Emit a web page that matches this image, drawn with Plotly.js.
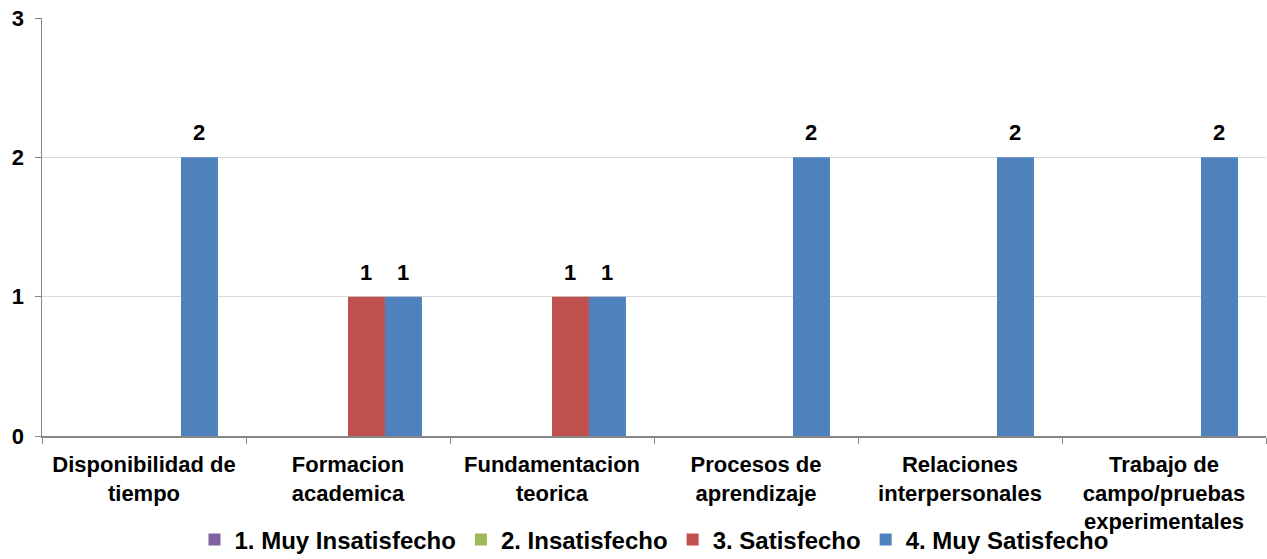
<!DOCTYPE html>
<html>
<head>
<meta charset="utf-8">
<script src="https://cdn.plot.ly/plotly-3.0.1.min.js"></script>
<style>html,body{margin:0;padding:0;background:#fff;}#chart{width:1267px;height:559px;}</style>
</head>
<body>
<div id="chart"></div>
<script>
const categories = [
  "Disponibilidad de<br>tiempo",
  "Formacion<br>academica",
  "Fundamentacion<br>teorica",
  "Procesos de<br>aprendizaje",
  "Relaciones<br>interpersonales",
  "Trabajo de<br>campo/pruebas<br>experimentales"
];
const seriesNames = ["1. Muy Insatisfecho", "2. Insatisfecho", "3. Satisfecho", "4. Muy Satisfecho"];
const muyInsatisfecho = [0, 0, 0, 0, 0, 0];
const insatisfecho    = [0, 0, 0, 0, 0, 0];
const satisfecho      = [0, 1, 1, 0, 0, 0];
const muySatisfecho   = [2, 1, 1, 2, 2, 2];
const seriesValues = [muyInsatisfecho, insatisfecho, satisfecho, muySatisfecho];
const seriesColors = ["#8064A2", "#9BBB59", "#C0504D", "#4F81BD"];

const FONT = "Liberation Sans, Arial, sans-serif";
const W = 1267, H = 559;
const margin = {l: 42, r: 1, t: 18, b: 123};
const bargap = 0.275;

const traces = seriesValues.map((vals, i) => ({
  type: "bar",
  name: seriesNames[i],
  x: categories,
  y: vals,
  marker: {color: seriesColors[i]},
  hoverinfo: "none"
}));

// data labels (non-zero values only), placed over each bar of the group
const catWidthPx = (W - margin.l - margin.r) / categories.length;
const barWidthPx = catWidthPx * (1 - bargap) / seriesValues.length;
const annotations = [];
seriesValues.forEach((vals, i) => {
  vals.forEach((v, j) => {
    if (v > 0) {
      annotations.push({
        x: categories[j], y: v, xref: "x", yref: "y",
        text: "<b>" + v + "</b>",
        showarrow: false,
        xanchor: "center", yanchor: "bottom",
        xshift: (i - (seriesValues.length - 1) / 2) * barWidthPx,
        yshift: 10,
        font: {family: FONT, size: 22, color: "#000"}
      });
    }
  });
});

const layout = {
  width: W, height: H,
  margin: margin,
  paper_bgcolor: "#fff", plot_bgcolor: "#fff",
  barmode: "group",
  bargap: bargap,
  bargroupgap: 0,
  showlegend: true,
  legend: {
    orientation: "h", x: 0.5, xanchor: "center",
    yref: "container", y: 0.034, yanchor: "middle",
    bgcolor: "rgba(0,0,0,0)",
    font: {family: FONT, size: 24, color: "#000", weight: "bold"},
    itemwidth: 30, traceorder: "normal"
  },
  font: {family: FONT, color: "#000"},
  annotations: annotations,
  xaxis: {
    type: "category",
    automargin: false,
    showline: true, linecolor: "#868686", linewidth: 1.5,
    ticks: "outside", ticklen: 6, tickcolor: "#868686", tickson: "boundaries",
    ticklabelstandoff: 8,
    tickfont: {family: FONT, size: 22, color: "#000", weight: "bold"},
    showgrid: false, zeroline: false
  },
  yaxis: {
    range: [0, 3], dtick: 1, tick0: 0,
    automargin: false,
    showline: true, linecolor: "#868686", linewidth: 1.5,
    ticks: "outside", ticklen: 6, tickcolor: "#868686",
    ticklabelstandoff: 6,
    tickfont: {family: FONT, size: 22, color: "#000", weight: "bold"},
    showgrid: true, gridcolor: "#d9d9d9", gridwidth: 1.5,
    zeroline: false
  }
};
Plotly.newPlot("chart", traces, layout, {displayModeBar: false, staticPlot: true});
</script>
</body>
</html>
